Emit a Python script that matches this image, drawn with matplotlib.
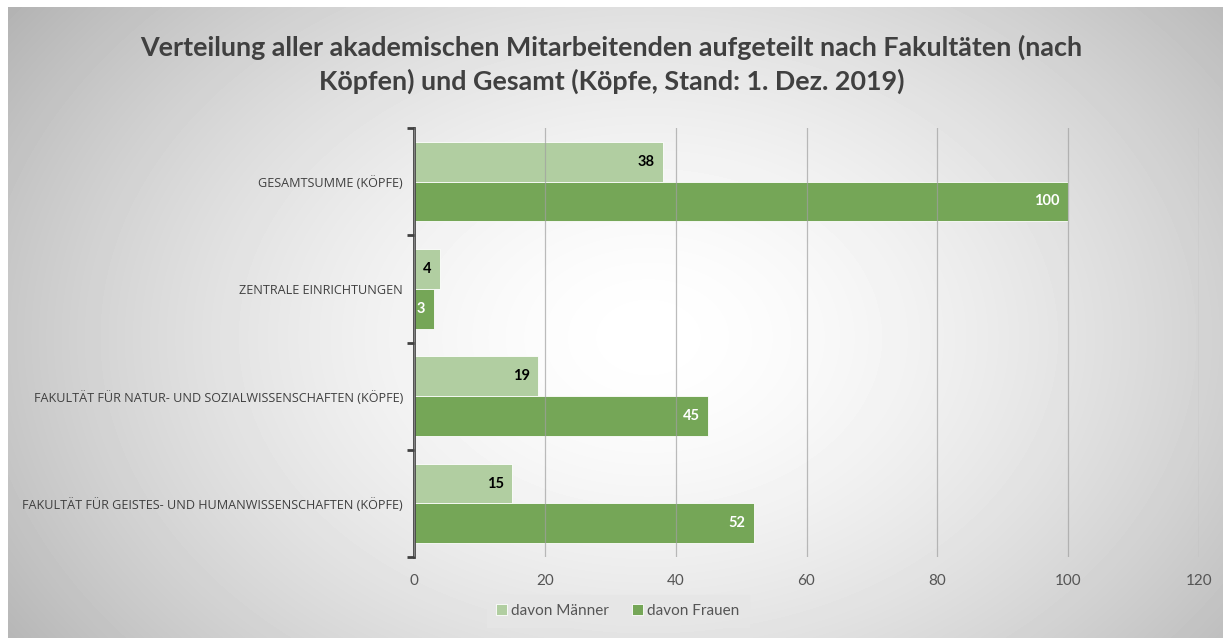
import numpy as np
import matplotlib.pyplot as plt

categories = [
    "FAKULTÄT FÜR GEISTES- UND HUMANWISSENSCHAFTEN (KÖPFE)",
    "FAKULTÄT FÜR NATUR- UND SOZIALWISSENSCHAFTEN (KÖPFE)",
    "ZENTRALE EINRICHTUNGEN",
    "GESAMTSUMME (KÖPFE)",
]
maenner = [15, 19, 4, 38]
frauen = [52, 45, 3, 100]
xticks = [0, 20, 40, 60, 80, 100, 120]

light = "#b1cea1"
dark = "#75a657"
font = "Lato"

fig = plt.figure(figsize=(12.23, 6.38), dpi=100)

# background: elliptical gradient, grey edges to white centre
bg = fig.add_axes([8 / 1223, 0, 1 - 8 / 1223, 1 - 7 / 638], zorder=-10)
yy, xx = np.mgrid[0:631, 0:1215]
r = np.sqrt(((xx - 640) / 720.0) ** 2 + ((yy - 330) / 520.0) ** 2)
shade = np.clip(1 - 0.26 * r ** 1.6, 0, 1)
bg.imshow(shade, cmap="gray", vmin=0, vmax=1, aspect="auto", interpolation="bilinear")
bg.axis("off")

ax = fig.add_axes([414 / 1223, 1 - 557 / 638, (1199 - 414) / 1223, (557 - 128) / 638])
ax.patch.set_alpha(0)

y = np.arange(len(categories))
h = 0.37
b1 = ax.barh(y + h / 2, maenner, height=h, color=light, edgecolor="white", linewidth=0.6, label="davon Männer", zorder=2)
b2 = ax.barh(y - h / 2, frauen, height=h, color=dark, edgecolor="white", linewidth=0.6, label="davon Frauen", zorder=2)

for bar, v in zip(b1, maenner):
    ax.text(bar.get_width() - 1.3, bar.get_y() + bar.get_height() / 2, str(v),
            ha="right", va="center", fontsize=10.5, fontweight="bold", color="black", family=font, zorder=4)
for bar, v in zip(b2, frauen):
    ax.text(bar.get_width() - 1.3, bar.get_y() + bar.get_height() / 2, str(v),
            ha="right", va="center", fontsize=10.5, fontweight="bold", color="white", family=font, zorder=4)

ax.set_xlim(0, 120)
ax.set_ylim(-0.5, len(categories) - 0.5)
ax.set_xticks(xticks)
ax.set_xticklabels([str(t) for t in xticks], fontsize=11, color="#555555", family=font)
ax.tick_params(axis="x", length=0, pad=12)
ax.grid(axis="x", color="#a0a0a0", linewidth=0.9, alpha=0.7, zorder=3)
ax.set_axisbelow(False)

ax.set_yticks(y)
ax.set_yticklabels(categories, fontsize=9.1, color="#404040", family="Open Sans")
ax.set_yticks(np.arange(-0.5, len(categories)), minor=True)
ax.tick_params(axis="y", which="major", length=0, pad=8)
ax.tick_params(axis="y", which="minor", length=5, width=2, color="#404040")

for s in ["top", "right", "bottom"]:
    ax.spines[s].set_visible(False)
ax.spines["left"].set_color("#404040")
ax.spines["left"].set_linewidth(2)

fig.text(0.5, 0.945, "Verteilung aller akademischen Mitarbeitenden aufgeteilt nach Fakultäten (nach\nKöpfen) und Gesamt (Köpfe, Stand: 1. Dez. 2019)",
         ha="center", va="top", fontsize=19.4, fontweight="bold", color="#404040", family=font, linespacing=1.38)

leg = fig.legend(handles=[b1, b2], loc="lower center", bbox_to_anchor=(0.505, 0.005), ncol=2,
                 frameon=True, prop={"family": font, "size": 11},
                 handlelength=0.7, handleheight=0.7, handletextpad=0.3, columnspacing=1.5,
                 borderpad=0.6, fancybox=False)
leg.get_frame().set_facecolor("#e6e6e6")
leg.get_frame().set_edgecolor("#e6e6e6")
for t in leg.get_texts():
    t.set_color("#555555")

fig.savefig("out.png", dpi=100)
